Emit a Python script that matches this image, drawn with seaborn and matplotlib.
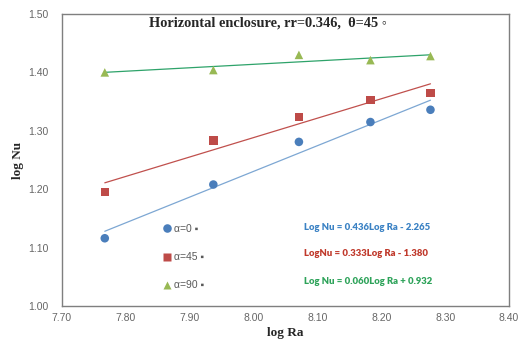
import matplotlib
matplotlib.use("Agg")
import matplotlib.pyplot as plt
import seaborn as sns
import pandas as pd

log_ra = [7.767, 7.937, 8.071, 8.183, 8.277]
nu_a0 = [1.116, 1.208, 1.281, 1.315, 1.336]
nu_a45 = [1.195, 1.283, 1.324, 1.353, 1.365]
nu_a90 = [1.400, 1.404, 1.430, 1.421, 1.428]
series_labels = ["α=0 ▪", "α=45 ▪", "α=90 ▪"]
equations = ["Log Nu = 0.436Log Ra - 2.265",
             "LogNu = 0.333Log Ra - 1.380",
             "Log Nu = 0.060Log Ra + 0.932"]
title_text = "Horizontal enclosure, rr=0.346,  θ=45 ◦"
x_ticks = [7.70, 7.80, 7.90, 8.00, 8.10, 8.20, 8.30, 8.40]
y_ticks = [1.00, 1.10, 1.20, 1.30, 1.40, 1.50]

marker_colors = ["#4A7EBB", "#BE4B48", "#98B954"]
line_colors = ["#7DA7D3", "#C0504D", "#2EA36A"]
eq_colors = ["#3B82C4", "#C0392B", "#2EA35A"]
markers = ["o", "s", "^"]

df = pd.DataFrame({
    "log Ra": log_ra * 3,
    "log Nu": nu_a0 + nu_a45 + nu_a90,
    "series": [series_labels[0]] * 5 + [series_labels[1]] * 5 + [series_labels[2]] * 5,
})

sns.set_style("white")
plt.rcParams["font.family"] = ["Liberation Sans", "DejaVu Sans"]

fig = plt.figure(figsize=(5.19, 3.41), dpi=100)
ax = fig.add_axes([62 / 519, 1 - 306 / 341, 447 / 519, 292 / 341])

for i, lab in enumerate(series_labels):
    sub = df[df["series"] == lab]
    sns.regplot(data=sub, x="log Ra", y="log Nu", ax=ax, scatter=False, ci=None,
                truncate=True, line_kws={"color": line_colors[i], "lw": 0.9})

sns.scatterplot(data=df, x="log Ra", y="log Nu", hue="series", style="series",
                palette=dict(zip(series_labels, marker_colors)),
                markers=dict(zip(series_labels, markers)),
                s=38, edgecolor="none", ax=ax, zorder=5)

ax.set_xlim(7.70, 8.40)
ax.set_ylim(1.00, 1.50)
ax.set_xticks(x_ticks)
ax.set_yticks(y_ticks)
ax.set_xticklabels([f"{v:.2f}" for v in x_ticks])
ax.set_yticklabels([f"{v:.2f}" for v in y_ticks])
ax.tick_params(axis="both", length=0, labelsize=7.5, colors="#666666")
ax.tick_params(axis="y", pad=10)
ax.tick_params(axis="x", pad=5)
for sp in ax.spines.values():
    sp.set_color("#7F7F7F")
    sp.set_linewidth(1.0)

ax.set_xlabel("log Ra", family="Liberation Serif", fontweight="bold", fontsize=9.5, labelpad=3)
ax.set_ylabel("log Nu", family="Liberation Serif", fontweight="bold", fontsize=9.5, labelpad=3)

ax.text(0.461, 0.969, title_text, transform=ax.transAxes, ha="center", va="center",
        family=["Liberation Serif", "DejaVu Sans"], fontweight="bold", fontsize=10.4)

handles, labels = ax.get_legend_handles_labels()
leg = ax.legend(handles, labels, loc="upper left", bbox_to_anchor=(161 / 519, 1 - 224 / 341),
                bbox_transform=fig.transFigure, frameon=False, fontsize=7.5,
                labelspacing=1.75, handletextpad=0.0, handlelength=1.2,
                borderaxespad=0, borderpad=0)
for t in leg.get_texts():
    t.set_color("#595959")

eq_y = [227, 254, 281]
for i, eq in enumerate(equations):
    fig.text(304 / 519, 1 - eq_y[i] / 341, eq, ha="left", va="center", color=eq_colors[i],
             fontsize=6.85, fontweight="heavy", family=["Lato", "DejaVu Sans"])

fig.savefig("out.png", dpi=100)
